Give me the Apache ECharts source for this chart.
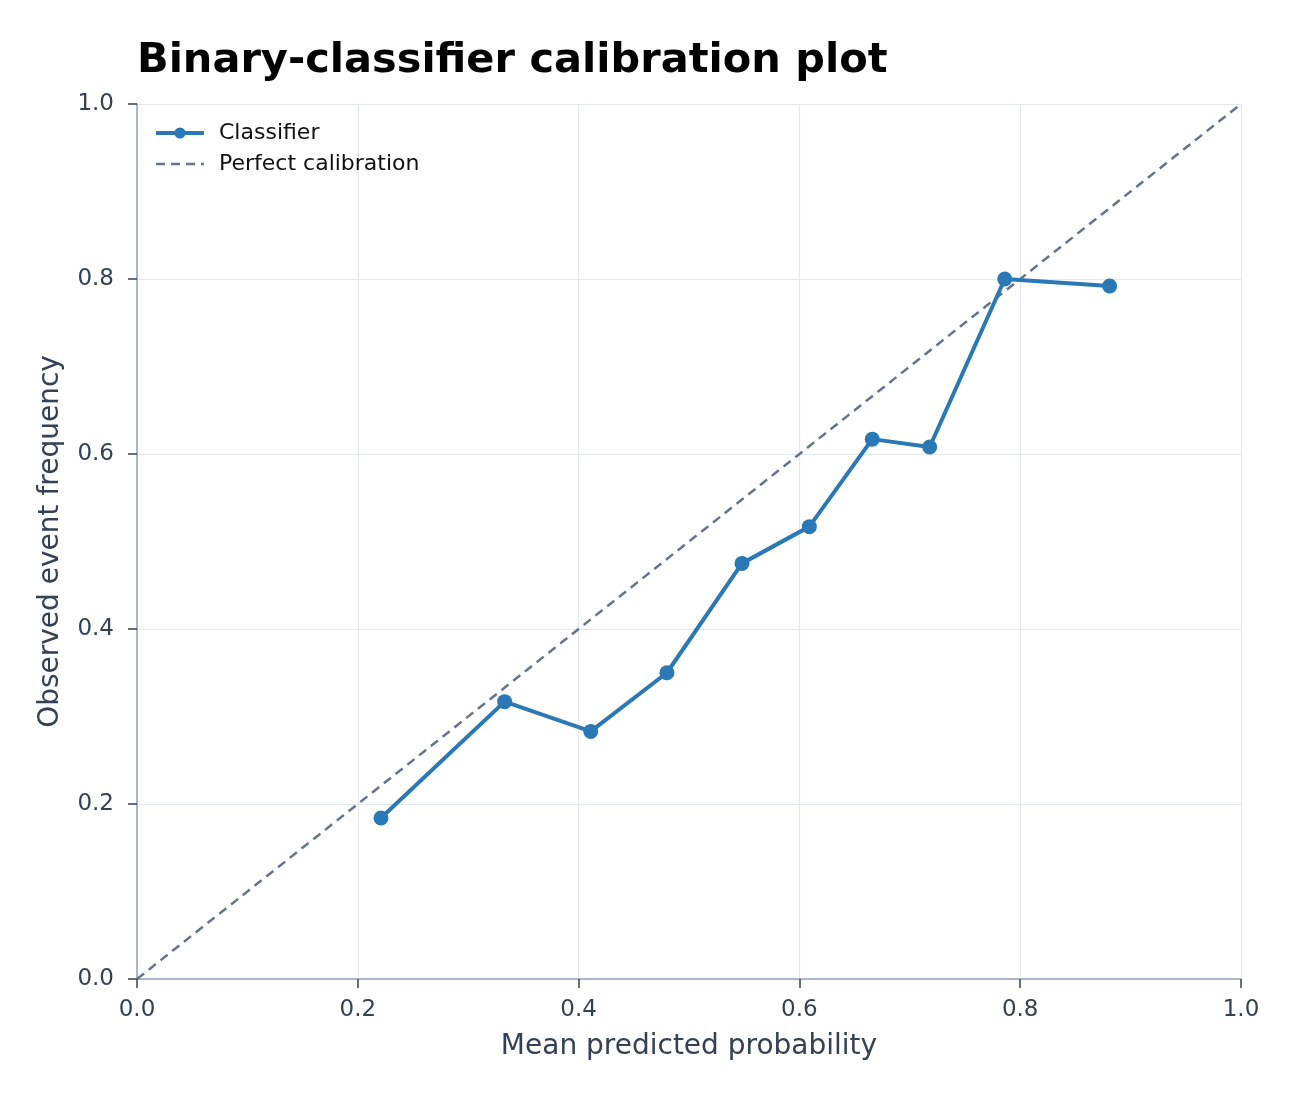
<!DOCTYPE html>
<html>
<head>
<meta charset="utf-8">
<script src="https://cdn.jsdelivr.net/npm/echarts@6/dist/echarts.min.js"></script>
<style>
  html, body { margin: 0; padding: 0; background: #fff; }
  #chart { width: 1300px; height: 1100px; }
</style>
</head>
<body>
<div id="chart"></div>
<script>
// mean predicted probability per bin, observed event frequency per bin
var predicted = [0.221, 0.333, 0.411, 0.480, 0.548, 0.609, 0.666, 0.718, 0.786, 0.881];
var observed = [0.184, 0.317, 0.283, 0.350, 0.475, 0.517, 0.617, 0.608, 0.800, 0.792];
var diagonal = [[0, 0], [1, 1]];

var classifierData = [];
for (var i = 0; i < predicted.length; i++) {
  classifierData.push([predicted[i], observed[i]]);
}

var font = 'DejaVu Sans';
var textColor = '#334155';
var blue = '#2a78b6';
var slate = '#64748b';

function axis(name, gap, labelMargin, labelPad) {
  return {
    type: 'value',
    min: 0,
    max: 1,
    interval: 0.2,
    name: name,
    nameLocation: 'middle',
    nameGap: gap,
    nameTextStyle: { fontFamily: font, fontSize: 28, color: textColor },
    axisLine: { show: true, lineStyle: { color: '#94a3b8', width: 1.5 } },
    axisTick: { show: true, length: 9, lineStyle: { color: textColor, width: 1.5 } },
    axisLabel: {
      fontFamily: font, fontSize: 23, color: textColor, margin: labelMargin,
      padding: labelPad,
      formatter: function(v) { return v.toFixed(1); }
    },
    splitLine: { show: true, lineStyle: { color: '#e2e8f0', width: 1.2 } }
  };
}

var chart = echarts.init(document.getElementById('chart'));
chart.setOption({
  animation: false,
  backgroundColor: '#fff',
  title: {
    text: 'Binary-classifier calibration plot',
    left: 132,
    top: 35,
    textStyle: { fontFamily: font, fontSize: 41.5, fontWeight: 'bold', color: '#000' }
  },
  legend: {
    orient: 'vertical',
    left: 149,
    top: 117,
    itemWidth: 48,
    itemHeight: 14,
    itemGap: 9,
    textStyle: { fontFamily: font, fontSize: 22, color: '#111', padding: [0, 0, 0, 10] },
    data: [
      { name: 'Classifier', lineStyle: { width: 4 } },
      { name: 'Perfect calibration', itemStyle: { opacity: 0 }, lineStyle: { width: 2.5, type: [9, 6] } }
    ]
  },
  grid: { left: 137, right: 59, top: 104, bottom: 121 },
  xAxis: axis('Mean predicted probability', 54, 20, 0),
  yAxis: axis('Observed event frequency', 72, 23, [6, 0, 0, 0]),
  series: [
    {
      name: 'Perfect calibration',
      type: 'line',
      data: diagonal,
      symbol: 'none',
      lineStyle: { color: slate, width: 2.5, type: [9, 6] },
      itemStyle: { color: slate },
      z: 2
    },
    {
      name: 'Classifier',
      type: 'line',
      data: classifierData,
      symbol: 'circle',
      symbolSize: 15,
      lineStyle: { color: blue, width: 4 },
      itemStyle: { color: blue },
      z: 3
    }
  ]
});
</script>
</body>
</html>
